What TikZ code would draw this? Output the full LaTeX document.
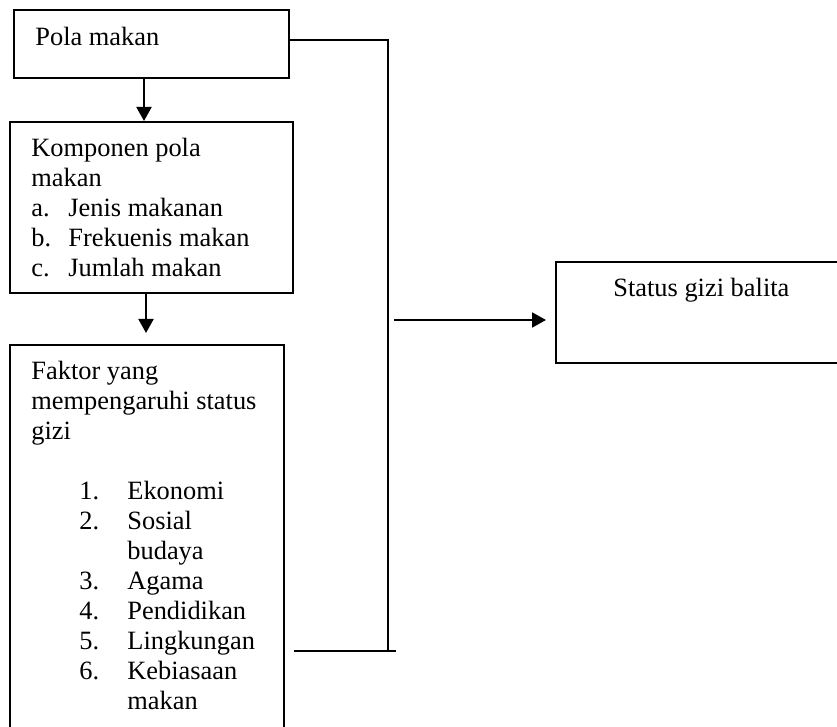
\documentclass[tikz,border=0pt]{standalone}
\usepackage{fontspec}
\setmainfont{Liberation Serif}
\usetikzlibrary{arrows.meta}
\tikzset{
  box/.style  = {rectangle, draw=black, line width=1pt, inner sep=0pt},
  txt/.style  = {anchor=base west, inner sep=0pt, font=\fontsize{13.2}{15}\selectfont},
  conn/.style = {line width=1pt},
  flow/.style = {-{Triangle[length=7pt,width=7.5pt]}, line width=1pt},
}

\begin{document}
\begin{tikzpicture}[x=0.5pt, y=-0.5pt]
  \clip (0,0) rectangle (837,727);

  % boxes
  \node[box, minimum width=137.5pt, minimum height=34pt]   (pola)   at (151.5,44)   {};
  \node[box, minimum width=141.5pt, minimum height=85.5pt] (komp)   at (151.5,207.5) {};
  \node[box, minimum width=137pt,   minimum height=207.5pt] (faktor) at (147,552.5)  {};
  \node[box, minimum width=147pt,   minimum height=50.5pt] (status) at (703,312.5)  {};

  % texts
  \node[txt] (pola-txt) at (35,46) {Pola makan};
  \node[txt] (komp-txt) at (31,157) {%
    \begin{tabular}[t]{@{}p{18.5pt}@{}l@{}}
      \multicolumn{2}{@{}l@{}}{Komponen pola}\\
      \multicolumn{2}{@{}l@{}}{makan}\\
      a. & Jenis makanan\\
      b. & Frekuenis makan\\
      c. & Jumlah makan
    \end{tabular}};
  \node[txt] (faktor-txt) at (31,380) {%
    \begin{tabular}[t]{@{}p{24pt}@{}p{24pt}@{}l@{}}
      \multicolumn{3}{@{}l@{}}{Faktor yang}\\
      \multicolumn{3}{@{}l@{}}{mempengaruhi status}\\
      \multicolumn{3}{@{}l@{}}{gizi}\\
      & & \\
      & 1. & Ekonomi\\
      & 2. & Sosial\\
      &    & budaya\\
      & 3. & Agama\\
      & 4. & Pendidikan\\
      & 5. & Lingkungan\\
      & 6. & Kebiasaan\\
      &    & makan
    \end{tabular}};
  \node[txt] (status-txt) at (613,297) {Status gizi balita};

  % joints
  \coordinate (top)    at (388,40);
  \coordinate (bot)    at (388,651);
  \coordinate (botend) at (396,651);
  \coordinate (mid)    at (394,320);

  % connectors
  \draw[flow] ([xshift=-3.75pt]pola.south) -- ([xshift=-3.75pt]pola.south |- komp.north);
  \draw[flow] ([xshift=-2.75pt]komp.south) -- ([xshift=-2.75pt,yshift=5.5pt]komp.south |- faktor.north);
  \draw[conn] (pola.east |- top) -- (top) -- (bot);
  \draw[conn] ([xshift=4.5pt]faktor.east |- botend) -- (botend);
  \draw[flow, shorten >=4.5pt] (mid) -- (mid -| status.west);
\end{tikzpicture}
\end{document}
